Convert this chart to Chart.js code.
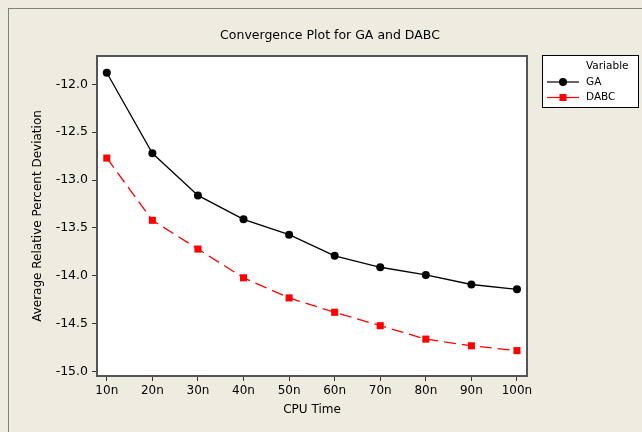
<!DOCTYPE html>
<html>
<head>
<meta charset="utf-8">
<script src="https://cdn.jsdelivr.net/npm/chart.js@4/dist/chart.umd.min.js"></script>
<style>
  html, body { margin: 0; padding: 0; background: #efebe1; }
</style>
</head>
<body>
<canvas id="convergence" width="642" height="432"></canvas>
<script>
const categories = ["10n", "20n", "30n", "40n", "50n", "60n", "70n", "80n", "90n", "100n"];
const gaValues = [-11.88, -12.72, -13.16, -13.41, -13.57, -13.79, -13.91, -13.99, -14.09, -14.14];
const dabcValues = [-12.77, -13.42, -13.72, -14.02, -14.23, -14.38, -14.52, -14.66, -14.73, -14.78];
const yTickValues = [-12.0, -12.5, -13.0, -13.5, -14.0, -14.5, -15.0];

const fontFamily = '"DejaVu Sans", Verdana, sans-serif';
const toPoints = (values) => values.map((v, i) => ({ x: i + 1, y: v }));

const decorPlugin = {
  id: "decor",
  beforeDraw(chart) {
    const { ctx, chartArea } = chart;
    ctx.save();
    ctx.fillStyle = "#efebe1";
    ctx.fillRect(0, 0, chart.width, chart.height);
    ctx.strokeStyle = "#808080";
    ctx.lineWidth = 1;
    ctx.strokeRect(8.5, 8.5, chart.width, chart.height);
    ctx.fillStyle = "#ffffff";
    ctx.fillRect(chartArea.left, chartArea.top, chartArea.right - chartArea.left, chartArea.bottom - chartArea.top);
    ctx.restore();
  },
  afterDraw(chart) {
    const { ctx, chartArea } = chart;
    ctx.save();
    // plot frame
    ctx.strokeStyle = "#555555";
    ctx.lineWidth = 2;
    ctx.strokeRect(chartArea.left, chartArea.top, chartArea.right - chartArea.left, chartArea.bottom - chartArea.top);

    // title
    ctx.fillStyle = "#000";
    ctx.font = "12.5px " + fontFamily;
    ctx.textAlign = "center";
    ctx.textBaseline = "middle";
    ctx.fillText("Convergence Plot for GA and DABC", 330, 36);

    // legend
    ctx.fillStyle = "#fff";
    ctx.fillRect(542, 55, 96, 52);
    ctx.strokeStyle = "#000";
    ctx.lineWidth = 1;
    ctx.strokeRect(542.5, 55.5, 96, 52);
    ctx.fillStyle = "#000";
    ctx.font = "10.5px " + fontFamily;
    ctx.textAlign = "left";
    ctx.fillText("Variable", 586, 66);

    chart.data.datasets.forEach((ds, i) => {
      const y = 82 + i * 15.5;
      ctx.strokeStyle = ds.borderColor;
      ctx.lineWidth = 1.2;
      ctx.setLineDash([]);
      ctx.beginPath();
      ctx.moveTo(547, y);
      ctx.lineTo(579, y);
      ctx.stroke();
      ctx.fillStyle = ds.pointBackgroundColor;
      if (ds.pointStyle === "rect") {
        ctx.fillRect(559.5, y - 3.5, 7, 7);
      } else {
        ctx.beginPath();
        ctx.arc(563, y, 4, 0, Math.PI * 2);
        ctx.fill();
      }
      ctx.fillStyle = "#000";
      ctx.fillText(ds.label, 586, y);
    });
    ctx.restore();
  },
};

new Chart(document.getElementById("convergence"), {
  type: "line",
  data: {
    datasets: [
      {
        label: "GA",
        data: toPoints(gaValues),
        borderColor: "#000000",
        borderWidth: 1.3,
        pointStyle: "circle",
        pointRadius: 4,
        pointBackgroundColor: "#000000",
        pointBorderWidth: 0,
        tension: 0,
      },
      {
        label: "DABC",
        data: toPoints(dabcValues),
        borderColor: "#ff0000",
        borderWidth: 1.3,
        borderDash: [12, 6],
        pointStyle: "rect",
        pointRadius: 5,
        pointBackgroundColor: "#ff0000",
        pointBorderWidth: 0,
        tension: 0,
      },
    ],
  },
  options: {
    responsive: false,
    animation: false,
    layout: {
      padding: { left: 0, top: 56, right: 115, bottom: 0 },
    },
    plugins: {
      legend: { display: false },
      tooltip: { enabled: false },
    },
    scales: {
      x: {
        type: "linear",
        min: 0.785,
        max: 10.22,
        afterFit: (scale) => { scale.height = 56; },
        afterBuildTicks: (scale) => {
          scale.ticks = categories.map((_, i) => ({ value: i + 1 }));
        },
        border: { display: false },
        grid: {
          display: true,
          drawOnChartArea: false,
          drawTicks: true,
          tickLength: 5,
          tickColor: "#333",
        },
        ticks: {
          color: "#000",
          padding: 3,
          maxRotation: 0,
          font: { family: fontFamily, size: 12 },
          callback: (value) => categories[Math.round(value) - 1],
        },
        title: {
          display: true,
          text: "CPU Time",
          color: "#000",
          font: { family: fontFamily, size: 12 },
          padding: { top: 0, bottom: 15 },
        },
      },
      y: {
        min: -15.045,
        max: -11.705,
        afterFit: (scale) => { scale.width = 97; },
        afterBuildTicks: (scale) => {
          scale.ticks = yTickValues.map((v) => ({ value: v }));
        },
        border: { display: false },
        grid: {
          display: true,
          drawOnChartArea: false,
          drawTicks: true,
          tickLength: 5,
          tickColor: "#333",
        },
        ticks: {
          color: "#000",
          padding: 4,
          font: { family: fontFamily, size: 12.5 },
          callback: (value) => value.toFixed(1),
        },
        title: {
          display: true,
          text: "Average Relative Percent Deviation",
          color: "#000",
          font: { family: fontFamily, size: 12 },
          padding: { top: 31, bottom: 0 },
        },
      },
    },
  },
  plugins: [decorPlugin],
});
</script>
</body>
</html>
